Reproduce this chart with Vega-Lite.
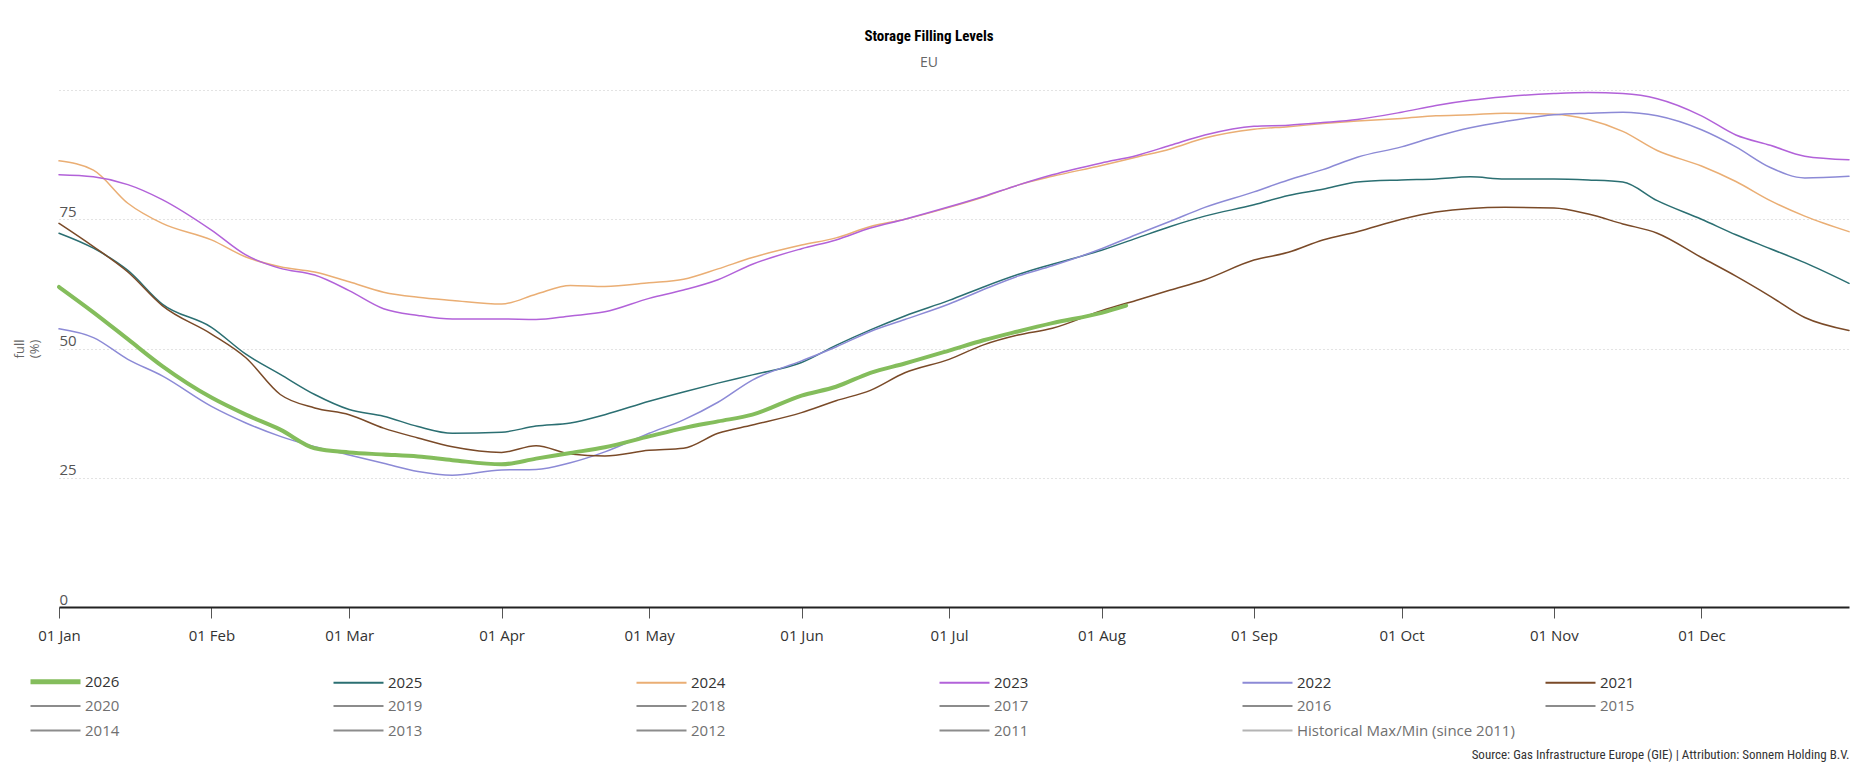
{
  "$schema": "https://vega.github.io/schema/vega-lite/v6.json",
  "autosize": {"type": "none"},
  "width": 1790,
  "height": 517,
  "padding": {"left": 59, "top": 90, "right": 15, "bottom": 160},
  "background": "white",
  "config": {"view": {"stroke": null}, "font": "Open Sans"},
  "title": {
    "text": "Storage Filling Levels",
    "subtitle": "EU",
    "font": "Liberation Sans Narrow, Roboto Condensed, Roboto",
    "fontSize": 15,
    "fontWeight": "bold",
    "color": "#000000",
    "subtitleFont": "Open Sans",
    "subtitleFontSize": 14,
    "subtitleColor": "#666666",
    "subtitlePadding": 12,
    "dx": -25,
    "offset": 20
  },
  "data": {
    "values": [
      {"year": "2025", "date": "2026-01-01", "v": 72.3},
      {"year": "2025", "date": "2026-01-08", "v": 69.4},
      {"year": "2025", "date": "2026-01-15", "v": 65.1},
      {"year": "2025", "date": "2026-01-22", "v": 58.6},
      {"year": "2025", "date": "2026-02-01", "v": 54.1},
      {"year": "2025", "date": "2026-02-08", "v": 48.9},
      {"year": "2025", "date": "2026-02-15", "v": 45.0},
      {"year": "2025", "date": "2026-02-22", "v": 41.1},
      {"year": "2025", "date": "2026-03-01", "v": 38.2},
      {"year": "2025", "date": "2026-03-08", "v": 36.9},
      {"year": "2025", "date": "2026-03-15", "v": 34.9},
      {"year": "2025", "date": "2026-03-22", "v": 33.6},
      {"year": "2025", "date": "2026-04-01", "v": 33.8},
      {"year": "2025", "date": "2026-04-08", "v": 35.0},
      {"year": "2025", "date": "2026-04-15", "v": 35.6},
      {"year": "2025", "date": "2026-04-22", "v": 37.2},
      {"year": "2025", "date": "2026-05-01", "v": 39.8},
      {"year": "2025", "date": "2026-05-08", "v": 41.6},
      {"year": "2025", "date": "2026-05-15", "v": 43.3},
      {"year": "2025", "date": "2026-05-22", "v": 44.9},
      {"year": "2025", "date": "2026-06-01", "v": 47.3},
      {"year": "2025", "date": "2026-06-08", "v": 50.6},
      {"year": "2025", "date": "2026-06-15", "v": 53.6},
      {"year": "2025", "date": "2026-06-22", "v": 56.3},
      {"year": "2025", "date": "2026-07-01", "v": 59.3},
      {"year": "2025", "date": "2026-07-08", "v": 61.9},
      {"year": "2025", "date": "2026-07-15", "v": 64.3},
      {"year": "2025", "date": "2026-07-22", "v": 66.3},
      {"year": "2025", "date": "2026-08-01", "v": 69.0},
      {"year": "2025", "date": "2026-08-08", "v": 71.3},
      {"year": "2025", "date": "2026-08-15", "v": 73.6},
      {"year": "2025", "date": "2026-08-22", "v": 75.6},
      {"year": "2025", "date": "2026-09-01", "v": 77.8},
      {"year": "2025", "date": "2026-09-08", "v": 79.6},
      {"year": "2025", "date": "2026-09-15", "v": 80.8},
      {"year": "2025", "date": "2026-09-22", "v": 82.2},
      {"year": "2025", "date": "2026-10-01", "v": 82.6},
      {"year": "2025", "date": "2026-10-08", "v": 82.8},
      {"year": "2025", "date": "2026-10-15", "v": 83.2},
      {"year": "2025", "date": "2026-10-22", "v": 82.8},
      {"year": "2025", "date": "2026-11-01", "v": 82.8},
      {"year": "2025", "date": "2026-11-08", "v": 82.6},
      {"year": "2025", "date": "2026-11-15", "v": 82.2},
      {"year": "2025", "date": "2026-11-22", "v": 78.6},
      {"year": "2025", "date": "2026-12-01", "v": 75.0},
      {"year": "2025", "date": "2026-12-08", "v": 72.0},
      {"year": "2025", "date": "2026-12-15", "v": 69.3},
      {"year": "2025", "date": "2026-12-22", "v": 66.6},
      {"year": "2025", "date": "2026-12-31", "v": 62.6},

      {"year": "2024", "date": "2026-01-01", "v": 86.3},
      {"year": "2024", "date": "2026-01-08", "v": 84.5},
      {"year": "2024", "date": "2026-01-15", "v": 78.1},
      {"year": "2024", "date": "2026-01-22", "v": 74.2},
      {"year": "2024", "date": "2026-02-01", "v": 71.0},
      {"year": "2024", "date": "2026-02-08", "v": 67.7},
      {"year": "2024", "date": "2026-02-15", "v": 65.8},
      {"year": "2024", "date": "2026-02-22", "v": 64.8},
      {"year": "2024", "date": "2026-03-01", "v": 62.9},
      {"year": "2024", "date": "2026-03-08", "v": 60.9},
      {"year": "2024", "date": "2026-03-15", "v": 59.9},
      {"year": "2024", "date": "2026-03-22", "v": 59.3},
      {"year": "2024", "date": "2026-04-01", "v": 58.6},
      {"year": "2024", "date": "2026-04-08", "v": 60.5},
      {"year": "2024", "date": "2026-04-15", "v": 62.2},
      {"year": "2024", "date": "2026-04-22", "v": 62.0},
      {"year": "2024", "date": "2026-05-01", "v": 62.7},
      {"year": "2024", "date": "2026-05-08", "v": 63.4},
      {"year": "2024", "date": "2026-05-15", "v": 65.4},
      {"year": "2024", "date": "2026-05-22", "v": 67.6},
      {"year": "2024", "date": "2026-06-01", "v": 70.0},
      {"year": "2024", "date": "2026-06-08", "v": 71.4},
      {"year": "2024", "date": "2026-06-15", "v": 73.6},
      {"year": "2024", "date": "2026-06-22", "v": 75.0},
      {"year": "2024", "date": "2026-07-01", "v": 77.3},
      {"year": "2024", "date": "2026-07-08", "v": 79.3},
      {"year": "2024", "date": "2026-07-15", "v": 81.6},
      {"year": "2024", "date": "2026-07-22", "v": 83.3},
      {"year": "2024", "date": "2026-08-01", "v": 85.4},
      {"year": "2024", "date": "2026-08-08", "v": 87.0},
      {"year": "2024", "date": "2026-08-15", "v": 88.6},
      {"year": "2024", "date": "2026-08-22", "v": 90.7},
      {"year": "2024", "date": "2026-09-01", "v": 92.4},
      {"year": "2024", "date": "2026-09-08", "v": 92.9},
      {"year": "2024", "date": "2026-09-15", "v": 93.5},
      {"year": "2024", "date": "2026-09-22", "v": 94.0},
      {"year": "2024", "date": "2026-10-01", "v": 94.5},
      {"year": "2024", "date": "2026-10-08", "v": 95.0},
      {"year": "2024", "date": "2026-10-15", "v": 95.2},
      {"year": "2024", "date": "2026-10-22", "v": 95.5},
      {"year": "2024", "date": "2026-11-01", "v": 95.3},
      {"year": "2024", "date": "2026-11-08", "v": 94.3},
      {"year": "2024", "date": "2026-11-15", "v": 92.0},
      {"year": "2024", "date": "2026-11-22", "v": 88.3},
      {"year": "2024", "date": "2026-12-01", "v": 85.3},
      {"year": "2024", "date": "2026-12-08", "v": 82.3},
      {"year": "2024", "date": "2026-12-15", "v": 78.6},
      {"year": "2024", "date": "2026-12-22", "v": 75.6},
      {"year": "2024", "date": "2026-12-31", "v": 72.6},

      {"year": "2023", "date": "2026-01-01", "v": 83.6},
      {"year": "2023", "date": "2026-01-08", "v": 83.2},
      {"year": "2023", "date": "2026-01-15", "v": 81.7},
      {"year": "2023", "date": "2026-01-22", "v": 78.8},
      {"year": "2023", "date": "2026-02-01", "v": 72.9},
      {"year": "2023", "date": "2026-02-08", "v": 68.1},
      {"year": "2023", "date": "2026-02-15", "v": 65.5},
      {"year": "2023", "date": "2026-02-22", "v": 64.2},
      {"year": "2023", "date": "2026-03-01", "v": 61.2},
      {"year": "2023", "date": "2026-03-08", "v": 57.7},
      {"year": "2023", "date": "2026-03-15", "v": 56.4},
      {"year": "2023", "date": "2026-03-22", "v": 55.7},
      {"year": "2023", "date": "2026-04-01", "v": 55.7},
      {"year": "2023", "date": "2026-04-08", "v": 55.6},
      {"year": "2023", "date": "2026-04-15", "v": 56.3},
      {"year": "2023", "date": "2026-04-22", "v": 57.1},
      {"year": "2023", "date": "2026-05-01", "v": 59.7},
      {"year": "2023", "date": "2026-05-08", "v": 61.3},
      {"year": "2023", "date": "2026-05-15", "v": 63.3},
      {"year": "2023", "date": "2026-05-22", "v": 66.3},
      {"year": "2023", "date": "2026-06-01", "v": 69.3},
      {"year": "2023", "date": "2026-06-08", "v": 71.0},
      {"year": "2023", "date": "2026-06-15", "v": 73.3},
      {"year": "2023", "date": "2026-06-22", "v": 75.0},
      {"year": "2023", "date": "2026-07-01", "v": 77.4},
      {"year": "2023", "date": "2026-07-08", "v": 79.4},
      {"year": "2023", "date": "2026-07-15", "v": 81.6},
      {"year": "2023", "date": "2026-07-22", "v": 83.6},
      {"year": "2023", "date": "2026-08-01", "v": 85.9},
      {"year": "2023", "date": "2026-08-08", "v": 87.3},
      {"year": "2023", "date": "2026-08-15", "v": 89.3},
      {"year": "2023", "date": "2026-08-22", "v": 91.3},
      {"year": "2023", "date": "2026-09-01", "v": 93.0},
      {"year": "2023", "date": "2026-09-08", "v": 93.2},
      {"year": "2023", "date": "2026-09-15", "v": 93.7},
      {"year": "2023", "date": "2026-09-22", "v": 94.3},
      {"year": "2023", "date": "2026-10-01", "v": 95.7},
      {"year": "2023", "date": "2026-10-08", "v": 97.0},
      {"year": "2023", "date": "2026-10-15", "v": 98.0},
      {"year": "2023", "date": "2026-10-22", "v": 98.7},
      {"year": "2023", "date": "2026-11-01", "v": 99.3},
      {"year": "2023", "date": "2026-11-08", "v": 99.5},
      {"year": "2023", "date": "2026-11-15", "v": 99.3},
      {"year": "2023", "date": "2026-11-22", "v": 98.3},
      {"year": "2023", "date": "2026-12-01", "v": 95.0},
      {"year": "2023", "date": "2026-12-08", "v": 91.3},
      {"year": "2023", "date": "2026-12-15", "v": 89.3},
      {"year": "2023", "date": "2026-12-22", "v": 87.2},
      {"year": "2023", "date": "2026-12-31", "v": 86.5},

      {"year": "2022", "date": "2026-01-01", "v": 53.8},
      {"year": "2022", "date": "2026-01-08", "v": 52.1},
      {"year": "2022", "date": "2026-01-15", "v": 47.9},
      {"year": "2022", "date": "2026-01-22", "v": 44.7},
      {"year": "2022", "date": "2026-02-01", "v": 38.8},
      {"year": "2022", "date": "2026-02-08", "v": 35.6},
      {"year": "2022", "date": "2026-02-15", "v": 33.0},
      {"year": "2022", "date": "2026-02-22", "v": 31.0},
      {"year": "2022", "date": "2026-03-01", "v": 29.4},
      {"year": "2022", "date": "2026-03-08", "v": 27.8},
      {"year": "2022", "date": "2026-03-15", "v": 26.2},
      {"year": "2022", "date": "2026-03-22", "v": 25.5},
      {"year": "2022", "date": "2026-04-01", "v": 26.5},
      {"year": "2022", "date": "2026-04-08", "v": 26.6},
      {"year": "2022", "date": "2026-04-15", "v": 27.9},
      {"year": "2022", "date": "2026-04-22", "v": 30.0},
      {"year": "2022", "date": "2026-05-01", "v": 33.6},
      {"year": "2022", "date": "2026-05-08", "v": 36.2},
      {"year": "2022", "date": "2026-05-15", "v": 39.6},
      {"year": "2022", "date": "2026-05-22", "v": 43.9},
      {"year": "2022", "date": "2026-06-01", "v": 47.6},
      {"year": "2022", "date": "2026-06-08", "v": 50.3},
      {"year": "2022", "date": "2026-06-15", "v": 53.3},
      {"year": "2022", "date": "2026-06-22", "v": 55.6},
      {"year": "2022", "date": "2026-07-01", "v": 58.6},
      {"year": "2022", "date": "2026-07-08", "v": 61.4},
      {"year": "2022", "date": "2026-07-15", "v": 64.0},
      {"year": "2022", "date": "2026-07-22", "v": 66.0},
      {"year": "2022", "date": "2026-08-01", "v": 69.3},
      {"year": "2022", "date": "2026-08-08", "v": 72.0},
      {"year": "2022", "date": "2026-08-15", "v": 74.6},
      {"year": "2022", "date": "2026-08-22", "v": 77.3},
      {"year": "2022", "date": "2026-09-01", "v": 80.3},
      {"year": "2022", "date": "2026-09-08", "v": 82.6},
      {"year": "2022", "date": "2026-09-15", "v": 84.6},
      {"year": "2022", "date": "2026-09-22", "v": 87.0},
      {"year": "2022", "date": "2026-10-01", "v": 89.0},
      {"year": "2022", "date": "2026-10-08", "v": 91.0},
      {"year": "2022", "date": "2026-10-15", "v": 92.7},
      {"year": "2022", "date": "2026-10-22", "v": 93.9},
      {"year": "2022", "date": "2026-11-01", "v": 95.2},
      {"year": "2022", "date": "2026-11-08", "v": 95.5},
      {"year": "2022", "date": "2026-11-15", "v": 95.7},
      {"year": "2022", "date": "2026-11-22", "v": 95.0},
      {"year": "2022", "date": "2026-12-01", "v": 92.3},
      {"year": "2022", "date": "2026-12-08", "v": 89.0},
      {"year": "2022", "date": "2026-12-15", "v": 85.0},
      {"year": "2022", "date": "2026-12-22", "v": 83.0},
      {"year": "2022", "date": "2026-12-31", "v": 83.3},

      {"year": "2021", "date": "2026-01-01", "v": 74.2},
      {"year": "2021", "date": "2026-01-08", "v": 69.7},
      {"year": "2021", "date": "2026-01-15", "v": 64.8},
      {"year": "2021", "date": "2026-01-22", "v": 58.3},
      {"year": "2021", "date": "2026-02-01", "v": 52.8},
      {"year": "2021", "date": "2026-02-08", "v": 48.2},
      {"year": "2021", "date": "2026-02-15", "v": 41.1},
      {"year": "2021", "date": "2026-02-22", "v": 38.5},
      {"year": "2021", "date": "2026-03-01", "v": 37.2},
      {"year": "2021", "date": "2026-03-08", "v": 34.6},
      {"year": "2021", "date": "2026-03-15", "v": 32.7},
      {"year": "2021", "date": "2026-03-22", "v": 31.0},
      {"year": "2021", "date": "2026-04-01", "v": 29.9},
      {"year": "2021", "date": "2026-04-08", "v": 31.2},
      {"year": "2021", "date": "2026-04-15", "v": 29.6},
      {"year": "2021", "date": "2026-04-22", "v": 29.2},
      {"year": "2021", "date": "2026-05-01", "v": 30.3},
      {"year": "2021", "date": "2026-05-08", "v": 30.7},
      {"year": "2021", "date": "2026-05-15", "v": 33.6},
      {"year": "2021", "date": "2026-05-22", "v": 35.2},
      {"year": "2021", "date": "2026-06-01", "v": 37.6},
      {"year": "2021", "date": "2026-06-08", "v": 39.9},
      {"year": "2021", "date": "2026-06-15", "v": 41.9},
      {"year": "2021", "date": "2026-06-22", "v": 45.3},
      {"year": "2021", "date": "2026-07-01", "v": 47.9},
      {"year": "2021", "date": "2026-07-08", "v": 50.7},
      {"year": "2021", "date": "2026-07-15", "v": 52.6},
      {"year": "2021", "date": "2026-07-22", "v": 53.9},
      {"year": "2021", "date": "2026-08-01", "v": 57.3},
      {"year": "2021", "date": "2026-08-08", "v": 59.3},
      {"year": "2021", "date": "2026-08-15", "v": 61.3},
      {"year": "2021", "date": "2026-08-22", "v": 63.3},
      {"year": "2021", "date": "2026-09-01", "v": 67.1},
      {"year": "2021", "date": "2026-09-08", "v": 68.6},
      {"year": "2021", "date": "2026-09-15", "v": 71.0},
      {"year": "2021", "date": "2026-09-22", "v": 72.6},
      {"year": "2021", "date": "2026-10-01", "v": 75.0},
      {"year": "2021", "date": "2026-10-08", "v": 76.4},
      {"year": "2021", "date": "2026-10-15", "v": 77.1},
      {"year": "2021", "date": "2026-10-22", "v": 77.3},
      {"year": "2021", "date": "2026-11-01", "v": 77.2},
      {"year": "2021", "date": "2026-11-08", "v": 76.0},
      {"year": "2021", "date": "2026-11-15", "v": 74.1},
      {"year": "2021", "date": "2026-11-22", "v": 72.3},
      {"year": "2021", "date": "2026-12-01", "v": 67.6},
      {"year": "2021", "date": "2026-12-08", "v": 64.0},
      {"year": "2021", "date": "2026-12-15", "v": 60.1},
      {"year": "2021", "date": "2026-12-22", "v": 56.0},
      {"year": "2021", "date": "2026-12-31", "v": 53.5},

      {"year": "2026", "date": "2026-01-01", "v": 61.9},
      {"year": "2026", "date": "2026-01-08", "v": 57.0},
      {"year": "2026", "date": "2026-01-15", "v": 51.8},
      {"year": "2026", "date": "2026-01-22", "v": 46.6},
      {"year": "2026", "date": "2026-02-01", "v": 40.5},
      {"year": "2026", "date": "2026-02-08", "v": 37.2},
      {"year": "2026", "date": "2026-02-15", "v": 34.3},
      {"year": "2026", "date": "2026-02-22", "v": 30.7},
      {"year": "2026", "date": "2026-03-01", "v": 29.9},
      {"year": "2026", "date": "2026-03-08", "v": 29.5},
      {"year": "2026", "date": "2026-03-15", "v": 29.1},
      {"year": "2026", "date": "2026-03-22", "v": 28.4},
      {"year": "2026", "date": "2026-04-01", "v": 27.6},
      {"year": "2026", "date": "2026-04-08", "v": 28.7},
      {"year": "2026", "date": "2026-04-15", "v": 29.8},
      {"year": "2026", "date": "2026-04-22", "v": 30.9},
      {"year": "2026", "date": "2026-05-01", "v": 33.0},
      {"year": "2026", "date": "2026-05-08", "v": 34.6},
      {"year": "2026", "date": "2026-05-15", "v": 35.9},
      {"year": "2026", "date": "2026-05-22", "v": 37.2},
      {"year": "2026", "date": "2026-06-01", "v": 40.9},
      {"year": "2026", "date": "2026-06-08", "v": 42.6},
      {"year": "2026", "date": "2026-06-15", "v": 45.3},
      {"year": "2026", "date": "2026-06-22", "v": 47.1},
      {"year": "2026", "date": "2026-07-01", "v": 49.6},
      {"year": "2026", "date": "2026-07-08", "v": 51.6},
      {"year": "2026", "date": "2026-07-15", "v": 53.3},
      {"year": "2026", "date": "2026-07-22", "v": 54.9},
      {"year": "2026", "date": "2026-08-01", "v": 56.9},
      {"year": "2026", "date": "2026-08-06", "v": 58.3}
    ]
  },
  "mark": {"type": "line", "interpolate": "monotone", "strokeCap": "round", "strokeJoin": "round"},
  "encoding": {
    "x": {
      "field": "date",
      "type": "temporal",
      "scale": {
        "type": "utc",
        "domain": [
          {"year": 2026, "month": 1, "date": 1, "utc": true},
          {"year": 2026, "month": 12, "date": 31, "utc": true}
        ]
      },
      "axis": {
        "title": "Source: Gas Infrastructure Europe (GIE) | Attribution: Sonnem Holding B.V.",
        "titleAnchor": "end",
        "titleFont": "Liberation Sans Narrow, Roboto Condensed, Roboto",
        "titleFontSize": 13,
        "titleFontWeight": "normal",
        "titleColor": "#333333",
        "titlePadding": 105,
        "labelExpr": "utcFormat(datum.value, '%d %b')",
        "tickCount": {"interval": "month", "step": 1},
        "grid": false,
        "domainColor": "#222222",
        "domainWidth": 2,
        "tickColor": "#555555",
        "tickSize": 11,
        "labelFont": "Open Sans",
        "labelFontSize": 15,
        "labelColor": "#333333",
        "labelPadding": 10,
        "labelFlush": false,
        "labelOverlap": false
      }
    },
    "y": {
      "field": "v",
      "type": "quantitative",
      "scale": {"domain": [0, 100], "nice": false},
      "axis": {
        "title": ["full", "(%)"],
        "titleFont": "Open Sans",
        "titleFontSize": 13,
        "titleFontWeight": "normal",
        "titleColor": "#666666",
        "titlePadding": 18,
        "values": [0, 25, 50, 75, 100],
        "labelExpr": "datum.value === 100 ? '' : datum.label",
        "grid": true,
        "gridDash": [1, 3],
        "gridColor": "#c6c6c6",
        "gridWidth": 1,
        "domain": false,
        "ticks": false,
        "tickSize": 0,
        "labelAlign": "left",
        "labelBaseline": "alphabetic",
        "labelOffset": -3,
        "labelPadding": 0,
        "labelFont": "Open Sans",
        "labelFontSize": 15,
        "labelColor": "#555555"
      }
    },
    "color": {
      "field": "year",
      "type": "nominal",
      "scale": {
        "domain": ["2026", "2025", "2024", "2023", "2022", "2021", "2020", "2019", "2018", "2017", "2016", "2015", "2014", "2013", "2012", "2011", "Historical Max/Min (since 2011)"],
        "range": ["#84bd5c", "#2b6f72", "#eaae74", "#b262d9", "#8c8ad6", "#7a4a28", "#8c8c8c", "#8c8c8c", "#8c8c8c", "#8c8c8c", "#8c8c8c", "#8c8c8c", "#8c8c8c", "#8c8c8c", "#8c8c8c", "#8c8c8c", "#b4b4b4"]
      },
      "legend": {
        "title": null,
        "orient": "none",
        "legendX": -11,
        "legendY": 584,
        "direction": "horizontal",
        "columns": 6,
        "gridAlign": "all",
        "columnPadding": 26,
        "rowPadding": 6.5,
        "symbolType": "stroke",
        "symbolSize": 2500,
        "symbolStrokeWidth": 2,
        "labelFont": "Open Sans",
        "labelFontSize": 15,
        "labelColor": "#333333",
        "labelOffset": 22,
        "labelLimit": 320,
        "encode": {
          "symbols": {"update": {"strokeWidth": {"signal": "datum.label === '2026' ? 5 : 2"}}},
          "labels": {"update": {"fill": {"signal": "(datum.label >= '2021' && datum.label <= '2026') ? '#333333' : '#707070'"}}}
        }
      }
    },
    "strokeWidth": {"condition": {"test": "datum.year === '2026'", "value": 4}, "value": 1.5}
  }
}
